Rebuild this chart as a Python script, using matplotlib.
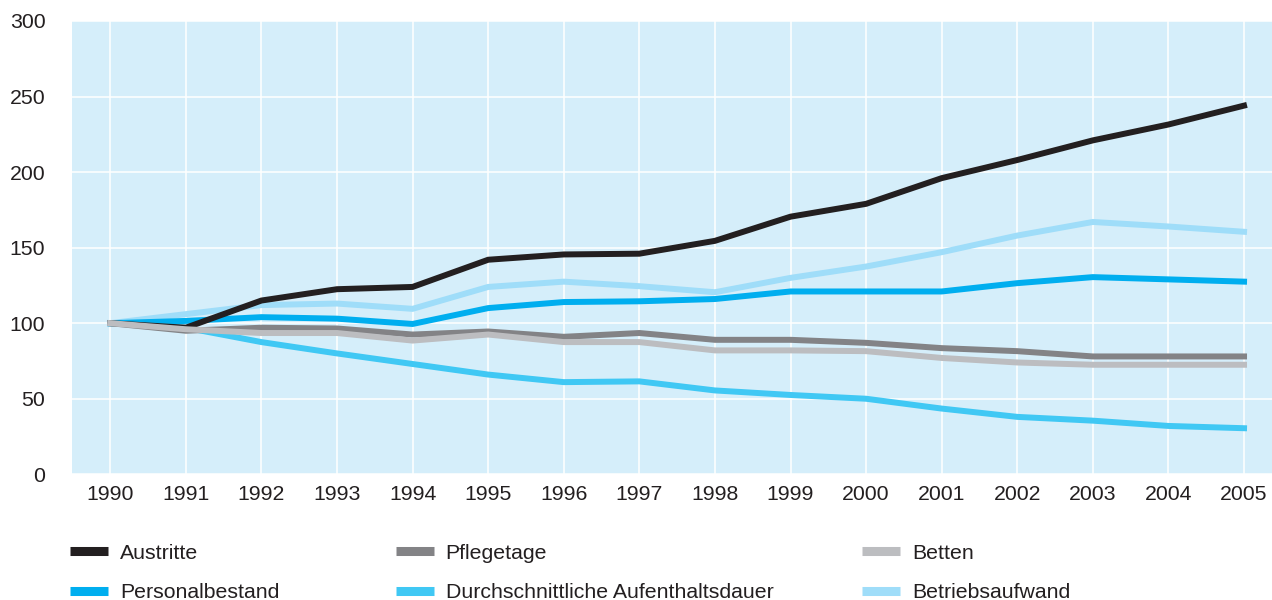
import matplotlib
matplotlib.use("Agg")
import numpy as np
from matplotlib import pyplot as plt
from matplotlib.lines import Line2D

# index 1990 = 100
years = list(range(1990, 2006))
austritte = [100, 97, 115, 122.5, 124, 142, 145.5, 146, 154.5, 170.5, 179, 196, 208, 221, 231.5, 244]
pflegetage = [100, 95, 97, 96.5, 92.5, 94.5, 91, 93.5, 89, 89, 87, 83.5, 81.5, 78, 78, 78]
betten = [100, 96, 93.5, 93.5, 88.5, 92.5, 87.5, 87.5, 82, 82, 81.5, 77, 74, 72.5, 72.5, 72.5]
personal = [100, 101.5, 104, 103, 99.5, 110, 114, 114.5, 116, 121, 121, 121, 126.5, 130.5, 129, 127.5]
aufenthalt = [100, 97, 87.5, 80, 73, 66, 61, 61.5, 55.5, 52.5, 50, 43.5, 38, 35.5, 32, 30.5]
aufwand = [100, 106, 112, 113, 109.5, 124, 127.5, 124.5, 120.5, 130, 137.5, 147, 158, 167, 164, 160.5]

labels = ["Austritte", "Pflegetage", "Betten",
          "Personalbestand", "Durchschnittliche Aufenthaltsdauer", "Betriebsaufwand"]
colors = {
    "Austritte": "#231f20",
    "Pflegetage": "#838386",
    "Betten": "#bcbdc0",
    "Personalbestand": "#00aeef",
    "Durchschnittliche Aufenthaltsdauer": "#40c8f4",
    "Betriebsaufwand": "#9fddf9",
}
series = {
    "Austritte": austritte,
    "Pflegetage": pflegetage,
    "Betten": betten,
    "Personalbestand": personal,
    "Durchschnittliche Aufenthaltsdauer": aufenthalt,
    "Betriebsaufwand": aufwand,
}
draw_order = ["Betriebsaufwand", "Personalbestand", "Durchschnittliche Aufenthaltsdauer",
              "Austritte", "Pflegetage", "Betten"]

text_color = "#231f20"
fs = 15.3
plt.rcParams["font.family"] = ["Liberation Sans", "DejaVu Sans"]

fig = plt.figure(figsize=(12.72, 6), dpi=100)
ax = fig.add_axes([71.7 / 1272, 1 - 474.3 / 600, 1 - 71.7 / 1272, (474.3 - 21) / 600])
ax.set_facecolor("#d5eefa")

for name in draw_order:
    ax.plot(years, series[name], color=colors[name], lw=4.3, solid_joinstyle="miter", zorder=3)

ax.set_xlim(1989.49, 2005.37)
ax.set_ylim(0, 300)
ax.set_xticks(years)
ax.set_yticks(range(0, 301, 50))
ax.tick_params(length=0, labelsize=fs, colors=text_color)
ax.tick_params(axis="y", pad=19)
ax.tick_params(axis="x", pad=8)
ax.grid(True, color="white", lw=1.1, zorder=1)
ax.set_axisbelow(True)
for s in ax.spines.values():
    s.set_visible(False)

# legend: three columns, two rows
cols = [(0.055, [0, 3]), (0.311, [1, 4]), (0.678, [2, 5])]
for x, idx in cols:
    handles = [Line2D([], [], color=colors[labels[i]], lw=6.5, solid_capstyle="butt") for i in idx]
    leg = fig.legend(handles, [labels[i] for i in idx], loc="upper left",
                     bbox_to_anchor=(x, 0.094), frameon=False, fontsize=fs,
                     handlelength=1.79, handletextpad=0.56, labelspacing=0.98,
                     borderpad=0, borderaxespad=0, labelcolor=text_color)

fig.savefig("out.png", dpi=100)
